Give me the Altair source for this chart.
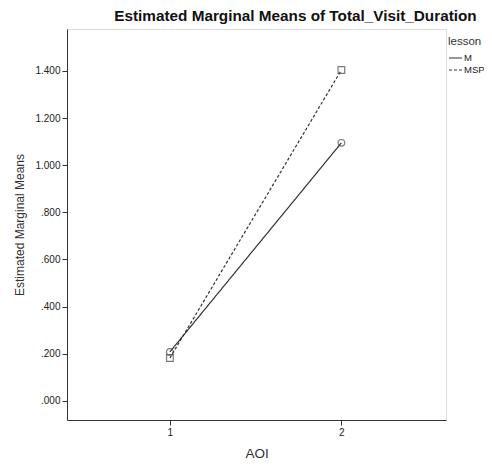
import altair as alt
import pandas as pd

aoi = [1, 2, 1, 2]
lesson = ["M", "M", "MSP", "MSP"]
means = [0.208, 1.095, 0.182, 1.404]
y_ticks = [0.0, 0.2, 0.4, 0.6, 0.8, 1.0, 1.2, 1.4]
x_ticks = [1, 2]

df = pd.DataFrame({"AOI": aoi, "lesson": lesson, "mean": means})

label_expr = "datum.value < 1 ? substring(format(datum.value, '.3f'), 1) : format(datum.value, ',.3f')"

x = alt.X("AOI:Q", scale=alt.Scale(domain=[0.4, 2.61], nice=False, zero=False),
          axis=alt.Axis(values=x_ticks, title="AOI", grid=False, format="d",
                        labelFontSize=10, titleFontSize=13.5, titleFontWeight="normal",
                        titlePadding=9, tickSize=5, domainColor="#333", tickColor="#333",
                        labelColor="#222", titleColor="#333", labelPadding=2))
y = alt.Y("mean:Q", scale=alt.Scale(domain=[-0.081, 1.578], nice=False, zero=False),
          axis=alt.Axis(values=y_ticks, title="Estimated Marginal Means", grid=False,
                        labelExpr=label_expr, labelFontSize=10, titleFontSize=12,
                        titleFontWeight="normal", titlePadding=8, tickSize=5,
                        domainColor="#333", tickColor="#333", labelColor="#222",
                        titleColor="#333"))

lines = alt.Chart(df).mark_line(color="#333", strokeWidth=1.2).encode(
    x=x, y=y,
    strokeDash=alt.StrokeDash("lesson:N",
                              scale=alt.Scale(domain=["M", "MSP"], range=[[1, 0], [3, 2]]),
                              legend=alt.Legend(title="lesson", orient="none", legendX=381,
                                                legendY=7, titleFontSize=11.5,
                                                titleFont="Liberation Sans Narrow, Liberation Sans",
                                                labelFont="Liberation Sans Narrow, Liberation Sans",
                                                titleFontWeight="normal", labelFontSize=9.5,
                                                labelLimit=40,
                                                symbolType="stroke", symbolSize=169,
                                                symbolStrokeWidth=1.2,
                                                symbolStrokeColor="#333", rowPadding=-4,
                                                titlePadding=3, labelOffset=1,
                                                titleColor="#333", labelColor="#222")),
)

points = alt.Chart(df).mark_point(filled=False, color="#444", size=45, strokeWidth=1.2).encode(
    x=x, y=y,
    shape=alt.Shape("lesson:N", scale=alt.Scale(domain=["M", "MSP"], range=["circle", "square"]),
                    legend=None),
)

chart = (lines + points).properties(
    width=379, height=391,
    title=alt.Title("Estimated Marginal Means of Total_Visit_Duration", fontSize=15.3,
                    fontWeight="bold", font="Liberation Sans", anchor="middle", dx=39,
                    offset=5, color="#111"),
    padding={"left": 59, "top": 21, "right": 38, "bottom": 40},
    autosize="none",
).resolve_legend(shape="independent", strokeDash="independent").configure_view(
    stroke="#555", strokeWidth=1.2).configure(font="Liberation Sans")

chart.save("out.html", embed_options={"renderer": "svg", "actions": False})
